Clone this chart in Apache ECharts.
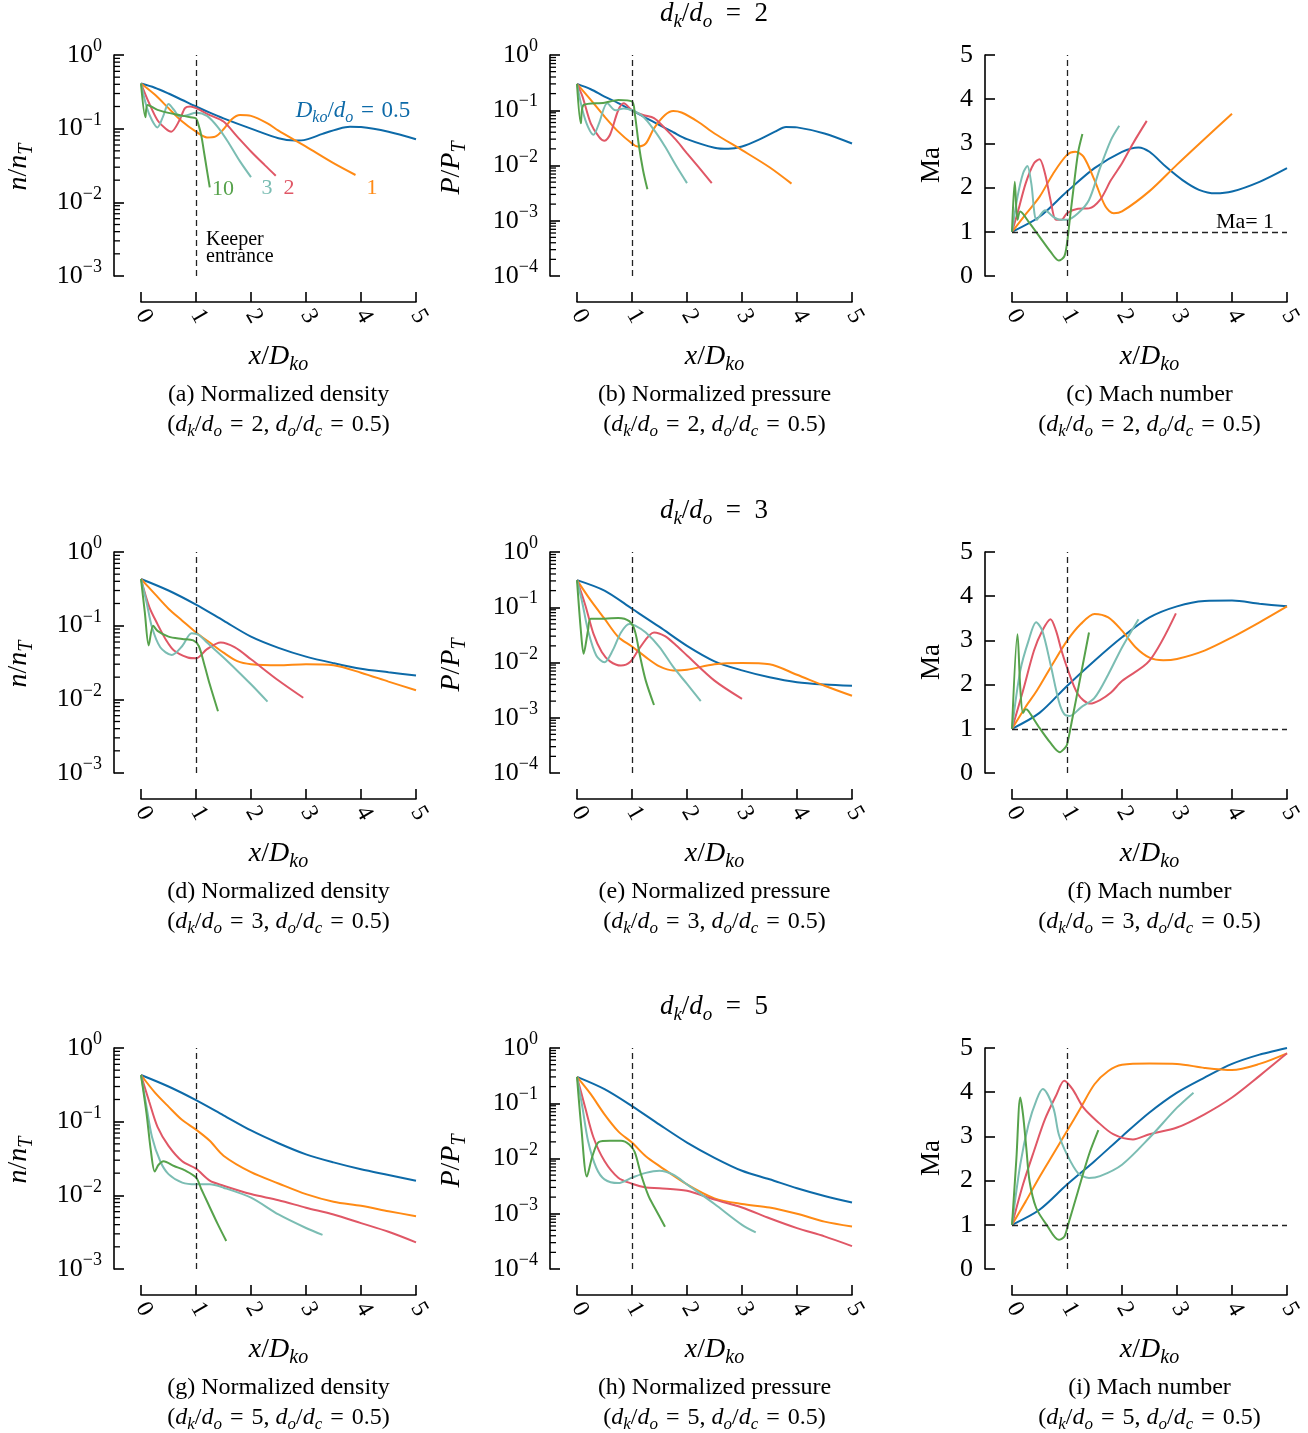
<!DOCTYPE html>
<html>
<head>
<meta charset="utf-8">
<script src="https://cdn.jsdelivr.net/npm/echarts@6/dist/echarts.min.js"></script>
<style>
  html, body { margin: 0; padding: 0; background: #fff; }
  #chart { width: 1308px; height: 1433px; }
</style>
</head>
<body>
<div id="chart"></div>
<script>
// x positions are x/D_ko
// row 1: d_k/d_o = 2
const nK2_05 = [[0,0.41],[0.25,0.36],[0.5,0.30],[0.75,0.245],[1,0.20],[1.25,0.165],[1.5,0.138],[2,0.10],[2.5,0.074],[2.8,0.069],[3,0.071],[3.3,0.085],[3.6,0.10],[3.8,0.106],[4,0.105],[4.5,0.091],[5,0.072]];
const nK2_1 = [[0,0.41],[0.25,0.29],[0.5,0.19],[0.75,0.125],[1,0.091],[1.2,0.076],[1.35,0.078],[1.5,0.098],[1.65,0.134],[1.8,0.153],[2,0.149],[2.3,0.118],[2.5,0.094],[3,0.057],[3.5,0.034],[3.9,0.0235]];
const nK2_2 = [[0,0.41],[0.15,0.22],[0.3,0.13],[0.45,0.10],[0.55,0.091],[0.7,0.13],[0.8,0.19],[0.9,0.20],[1,0.19],[1.25,0.153],[1.5,0.125],[1.75,0.078],[2,0.049],[2.25,0.032],[2.45,0.023]];
const nK2_3 = [[0,0.41],[0.1,0.2],[0.2,0.13],[0.3,0.104],[0.4,0.146],[0.5,0.216],[0.6,0.18],[0.7,0.146],[0.85,0.153],[1,0.165],[1.2,0.149],[1.4,0.104],[1.6,0.063],[1.8,0.036],[2,0.022]];
const nK2_10 = [[0,0.41],[0.08,0.143],[0.12,0.21],[0.3,0.18],[0.6,0.158],[0.9,0.143],[1,0.138],[1.05,0.11],[1.1,0.078],[1.15,0.046],[1.2,0.027],[1.25,0.016]];

const pK2_05 = [[0,0.30],[0.25,0.24],[0.5,0.177],[0.75,0.135],[1,0.10],[1.25,0.073],[1.5,0.054],[1.75,0.04],[2,0.030],[2.5,0.021],[2.75,0.02],[3,0.022],[3.3,0.029],[3.6,0.041],[3.8,0.05],[4,0.049],[4.5,0.038],[5,0.025]];
const pK2_1 = [[0,0.30],[0.25,0.154],[0.5,0.077],[0.75,0.041],[1,0.025],[1.1,0.022],[1.25,0.025],[1.4,0.047],[1.6,0.082],[1.75,0.097],[1.9,0.091],[2.2,0.062],[2.5,0.038],[3,0.019],[3.5,0.0093],[3.9,0.0047]];
const pK2_2 = [[0,0.30],[0.1,0.177],[0.25,0.058],[0.4,0.033],[0.5,0.028],[0.6,0.036],[0.75,0.10],[0.85,0.134],[1,0.10],[1.2,0.082],[1.4,0.072],[1.6,0.047],[1.8,0.029],[2,0.0166],[2.2,0.0096],[2.45,0.0048]];
const pK2_3 = [[0,0.30],[0.1,0.10],[0.2,0.05],[0.3,0.036],[0.4,0.058],[0.55,0.134],[0.7,0.10],[0.85,0.108],[1,0.10],[1.2,0.077],[1.4,0.044],[1.6,0.022],[1.8,0.01],[2,0.0048]];
const pK2_10 = [[0,0.30],[0.07,0.058],[0.12,0.125],[0.5,0.137],[0.75,0.154],[1,0.144],[1.05,0.088],[1.12,0.025],[1.2,0.0083],[1.28,0.0037]];

const maK2_05 = [[0,1],[0.5,1.34],[1,1.91],[1.5,2.44],[2,2.81],[2.3,2.91],[2.5,2.81],[2.8,2.47],[3.1,2.17],[3.4,1.95],[3.7,1.87],[4,1.91],[4.5,2.13],[5,2.44]];
const maK2_1 = [[0,1],[0.25,1.4],[0.5,1.79],[0.75,2.32],[1,2.74],[1.15,2.81],[1.3,2.7],[1.5,2.17],[1.7,1.57],[1.85,1.42],[2,1.46],[2.5,1.92],[3,2.52],[3.5,3.1],[4,3.67]];
const maK2_2 = [[0,1],[0.1,1.42],[0.25,2.1],[0.4,2.55],[0.5,2.64],[0.6,2.32],[0.7,1.72],[0.8,1.27],[0.9,1.27],[1,1.42],[1.2,1.52],[1.4,1.53],[1.6,1.72],[1.8,2.17],[2,2.55],[2.2,3.0],[2.45,3.51]];
const maK2_3 = [[0,1],[0.1,1.79],[0.2,2.32],[0.28,2.49],[0.35,2.1],[0.45,1.27],[0.6,1.49],[0.75,1.34],[0.9,1.27],[1,1.27],[1.2,1.42],[1.4,1.72],[1.6,2.44],[1.8,3.08],[1.95,3.4]];
const maK2_10 = [[0,1],[0.05,2.13],[0.1,1.27],[0.15,1.46],[0.3,1.23],[0.5,0.89],[0.7,0.55],[0.85,0.35],[0.95,0.44],[1,0.74],[1.05,1.27],[1.1,1.79],[1.2,2.78],[1.28,3.21]];

// row 2: d_k/d_o = 3
const nK3_05 = [[0,0.43],[0.5,0.30],[1,0.193],[1.5,0.117],[2,0.071],[2.5,0.05],[3,0.038],[3.5,0.031],[4,0.026],[4.5,0.0233],[5,0.021]];
const nK3_1 = [[0,0.43],[0.25,0.27],[0.5,0.17],[0.75,0.117],[1,0.081],[1.25,0.059],[1.5,0.043],[1.75,0.033],[2,0.030],[2.5,0.029],[3,0.030],[3.5,0.029],[4,0.023],[4.5,0.0174],[5,0.0133]];
const nK3_2 = [[0,0.43],[0.15,0.18],[0.3,0.105],[0.45,0.065],[0.6,0.046],[0.85,0.037],[1,0.036],[1.2,0.048],[1.45,0.059],[1.7,0.051],[2,0.035],[2.5,0.018],[2.95,0.0105]];
const nK3_3 = [[0,0.43],[0.1,0.21],[0.2,0.095],[0.35,0.051],[0.56,0.040],[0.75,0.053],[0.92,0.079],[1.05,0.075],[1.2,0.059],[1.5,0.037],[1.75,0.0245],[2,0.016],[2.3,0.0093]];
const nK3_10 = [[0,0.43],[0.07,0.15],[0.14,0.054],[0.22,0.1],[0.3,0.085],[0.5,0.071],[0.75,0.066],[0.95,0.063],[1.05,0.053],[1.15,0.030],[1.25,0.016],[1.4,0.0069]];

const pK3_05 = [[0,0.31],[0.5,0.2],[1,0.094],[1.5,0.044],[2,0.02],[2.5,0.0105],[3,0.0072],[3.5,0.0054],[4,0.0044],[4.5,0.004],[5,0.0038]];
const pK3_1 = [[0,0.31],[0.25,0.133],[0.5,0.062],[0.75,0.029],[1,0.0195],[1.25,0.0125],[1.5,0.0085],[1.75,0.0072],[2,0.0074],[2.5,0.0093],[3,0.0098],[3.5,0.0093],[4,0.006],[4.5,0.0038],[5,0.0025]];
const pK3_2 = [[0,0.31],[0.15,0.11],[0.3,0.033],[0.45,0.0155],[0.6,0.0105],[0.8,0.0088],[0.97,0.0103],[1.15,0.019],[1.4,0.035],[1.6,0.03],[1.8,0.0205],[2,0.0134],[2.5,0.0047],[3,0.0022]];
const pK3_3 = [[0,0.31],[0.1,0.116],[0.2,0.038],[0.35,0.0134],[0.5,0.0101],[0.65,0.0166],[0.8,0.035],[0.95,0.05],[1.05,0.047],[1.25,0.035],[1.5,0.019],[1.75,0.0083],[2,0.0041],[2.25,0.002]];
const pK3_10 = [[0,0.31],[0.07,0.038],[0.12,0.0144],[0.2,0.038],[0.25,0.062],[0.5,0.062],[0.75,0.064],[0.95,0.056],[1.05,0.038],[1.15,0.0125],[1.25,0.0047],[1.4,0.0017]];

const maK3_05 = [[0,1],[0.5,1.36],[1,1.97],[1.5,2.54],[2,3.07],[2.5,3.52],[3,3.77],[3.5,3.89],[4,3.9],[4.5,3.83],[5,3.77]];
const maK3_1 = [[0,1],[0.25,1.5],[0.45,1.86],[0.75,2.49],[1,2.99],[1.25,3.37],[1.5,3.6],[1.75,3.52],[2,3.22],[2.25,2.84],[2.5,2.61],[2.75,2.55],[3,2.58],[3.5,2.77],[4,3.07],[4.5,3.41],[5,3.77]];
const maK3_2 = [[0,1],[0.2,1.86],[0.4,2.77],[0.55,3.22],[0.7,3.48],[0.8,3.22],[0.9,2.77],[1,2.39],[1.2,1.78],[1.42,1.57],[1.6,1.65],[1.8,1.82],[2,2.08],[2.5,2.54],[2.98,3.61]];
const maK3_3 = [[0,1],[0.15,2.31],[0.3,2.99],[0.44,3.41],[0.55,3.22],[0.7,2.46],[0.85,1.63],[0.95,1.33],[1.05,1.29],[1.25,1.48],[1.5,1.70],[1.75,2.23],[2,2.84],[2.3,3.48]];
const maK3_10 = [[0,1],[0.1,3.14],[0.15,1.93],[0.2,1.36],[0.25,1.44],[0.3,1.4],[0.5,1.02],[0.7,0.68],[0.87,0.47],[0.95,0.55],[1.0,0.64],[1.1,1.25],[1.23,2.08],[1.4,3.18]];

// row 3: d_k/d_o = 5
const nK5_05 = [[0,0.43],[0.5,0.30],[1,0.196],[1.5,0.122],[2,0.076],[2.5,0.051],[3,0.036],[3.5,0.028],[4,0.0226],[4.5,0.0189],[5,0.0158]];
const nK5_1 = [[0,0.43],[0.25,0.25],[0.5,0.16],[0.75,0.105],[1,0.078],[1.25,0.055],[1.5,0.0345],[2,0.0206],[2.5,0.0145],[3,0.0104],[3.5,0.0082],[4,0.0072],[4.5,0.0061],[5,0.0052]];
const nK5_2 = [[0,0.43],[0.15,0.186],[0.3,0.085],[0.5,0.047],[0.75,0.029],[1,0.023],[1.25,0.0158],[1.5,0.0135],[2,0.0104],[2.5,0.0086],[3,0.0068],[3.5,0.0055],[4,0.0042],[4.5,0.0032],[5,0.0023]];
const nK5_3 = [[0,0.43],[0.1,0.16],[0.2,0.062],[0.35,0.029],[0.5,0.0194],[0.75,0.0149],[1,0.0141],[1.25,0.0141],[1.5,0.0127],[2,0.0093],[2.5,0.0055],[3,0.0036],[3.3,0.0029]];
const nK5_10 = [[0,0.43],[0.1,0.13],[0.18,0.04],[0.25,0.021],[0.32,0.026],[0.41,0.029],[0.6,0.025],[0.8,0.0218],[1,0.0175],[1.1,0.012],[1.2,0.0083],[1.4,0.004],[1.55,0.0024]];

const pK5_05 = [[0,0.30],[0.5,0.18],[1,0.089],[1.5,0.041],[2,0.0194],[2.5,0.0103],[3,0.006],[3.5,0.0042],[4,0.0029],[4.5,0.0021],[5,0.0016]];
const pK5_1 = [[0,0.30],[0.25,0.146],[0.5,0.063],[0.75,0.031],[1,0.0194],[1.25,0.011],[1.5,0.0073],[2,0.0034],[2.5,0.0019],[3,0.0015],[3.5,0.0013],[4,0.001],[4.5,0.00072],[5,0.00059]];
const pK5_2 = [[0,0.30],[0.15,0.083],[0.3,0.024],[0.5,0.009],[0.75,0.0045],[1,0.0035],[1.25,0.003],[1.5,0.0029],[2,0.0026],[2.5,0.0018],[3,0.0013],[3.5,0.00083],[4,0.00055],[4.5,0.00039],[5,0.00026]];
const pK5_3 = [[0,0.30],[0.1,0.083],[0.2,0.021],[0.35,0.0068],[0.5,0.0042],[0.75,0.0036],[1,0.0045],[1.25,0.0055],[1.5,0.006],[1.75,0.0051],[2,0.0034],[2.5,0.0015],[3,0.00063],[3.25,0.00046]];
const pK5_10 = [[0,0.30],[0.08,0.035],[0.18,0.0047],[0.28,0.011],[0.4,0.02],[0.6,0.021],[0.8,0.021],[0.95,0.018],[1.05,0.013],[1.16,0.0053],[1.3,0.0021],[1.41,0.0013],[1.6,0.00058]];

const maK5_05 = [[0,1],[0.5,1.34],[1,1.91],[1.5,2.44],[2,3.0],[2.5,3.54],[3,3.99],[3.5,4.33],[4,4.64],[4.5,4.85],[5,5.0]];
const maK5_1 = [[0,1],[0.25,1.53],[0.5,2.08],[0.75,2.6],[1,3.12],[1.25,3.65],[1.5,4.18],[1.75,4.48],[2,4.62],[2.5,4.65],[3,4.64],[3.5,4.55],[4,4.5],[4.5,4.64],[5,4.88]];
const maK5_2 = [[0,1],[0.2,1.91],[0.4,2.67],[0.6,3.39],[0.8,3.92],[0.95,4.26],[1.1,4.07],[1.3,3.65],[1.54,3.35],[1.84,3.05],[2.2,2.93],[2.5,3.05],[3,3.2],[3.5,3.5],[4,3.88],[4.5,4.37],[5,4.88]];
const maK5_3 = [[0,1],[0.15,2.36],[0.3,3.27],[0.45,3.84],[0.56,4.07],[0.75,3.65],[0.85,3.05],[1,2.59],[1.2,2.17],[1.4,2.06],[1.6,2.1],[2,2.36],[2.5,2.97],[3,3.65],[3.3,3.99]];
const maK5_10 = [[0,1],[0.08,2.5],[0.15,3.88],[0.2,3.5],[0.26,2.74],[0.32,1.98],[0.44,1.38],[0.63,1.0],[0.85,0.66],[0.95,0.73],[1.02,1.0],[1.2,1.76],[1.4,2.59],[1.57,3.14]];

const rowRatios = ['2', '3', '5'];
const panelLetters = ['a','b','c','d','e','f','g','h','i'];
const panelNames = ['Normalized density', 'Normalized pressure', 'Mach number'];
const colors = ['#0d6aa8', '#ff8a14', '#e05766', '#7bbdb3', '#56a24b'];

const panels = [
  [[nK2_05,nK2_1,nK2_2,nK2_3,nK2_10], [pK2_05,pK2_1,pK2_2,pK2_3,pK2_10], [maK2_05,maK2_1,maK2_2,maK2_3,maK2_10]],
  [[nK3_05,nK3_1,nK3_2,nK3_3,nK3_10], [pK3_05,pK3_1,pK3_2,pK3_3,pK3_10], [maK3_05,maK3_1,maK3_2,maK3_3,maK3_10]],
  [[nK5_05,nK5_1,nK5_2,nK5_3,nK5_10], [pK5_05,pK5_1,pK5_2,pK5_3,pK5_10], [maK5_05,maK5_1,maK5_2,maK5_3,maK5_10]]
];

const SERIF = "'Liberation Serif', 'Times New Roman', serif";
const EQ = '\u2004=\u2004';
const rowTop = [55, 552, 1048];
const colLeft = [141, 577, 1012];
const W = 275, H = 221;

function rich(size) {
  return {
    i: { fontFamily: SERIF, fontStyle: 'italic', fontSize: size },
    s: { fontFamily: SERIF, fontStyle: 'italic', fontSize: Math.round(size * 0.7),
         padding: [Math.round(size * 0.58), 0, 0, 0], verticalAlign: 'bottom' }
  };
}

function text(x, y, str, size, opt) {
  opt = opt || {};
  return {
    type: 'text', x: x, y: y, rotation: opt.rotation || 0, silent: true,
    style: {
      text: str, fontFamily: SERIF, fontSize: size, fill: opt.fill || '#000',
      align: opt.align || 'center', verticalAlign: 'middle',
      textAlign: opt.align || 'center', textVerticalAlign: 'middle',
      lineHeight: opt.lineHeight, rich: rich(size)
    }
  };
}

// minor ticks of the log axes (2..9 x 10^k)
function minorTicks(lowExp) {
  const out = [];
  for (let e = lowExp; e < 0; e++) {
    for (let m = 2; m <= 9; m++) out.push([0, m * Math.pow(10, e)]);
  }
  return out;
}

const grids = [], xAxes = [], yAxes = [], series = [], graphics = [];

for (let r = 0; r < 3; r++) {
  for (let c = 0; c < 3; c++) {
    const gi = r * 3 + c;
    const top = rowTop[r], left = colLeft[c];
    grids.push({ left: left, top: top, width: W, height: H });
    xAxes.push({
      gridIndex: gi, type: 'value', min: 0, max: 5, interval: 1, offset: 26,
      axisLine: { onZero: false, lineStyle: { color: '#000', width: 1.6 } },
      axisTick: { inside: true, length: 10, lineStyle: { color: '#000', width: 1.6 } },
      axisLabel: { rotate: -60, margin: 9, fontFamily: SERIF, fontSize: 24, color: '#000' },
      splitLine: { show: false }
    });
    const yBase = {
      gridIndex: gi, offset: 27,
      axisLine: { show: true, onZero: false, lineStyle: { color: '#000', width: 1.6 } },
      axisTick: { show: true, inside: true, length: 10, lineStyle: { color: '#000', width: 1.6 } },
      splitLine: { show: false }
    };
    if (c < 2) {
      const lowExp = c === 0 ? -3 : -4;
      yAxes.push(Object.assign(yBase, {
        type: 'log', logBase: 10, min: Math.pow(10, lowExp), max: 1,
        axisLabel: {
          margin: 12, fontFamily: SERIF, fontSize: 26, color: '#000', showMinLabel: true, showMaxLabel: true,
          formatter: function (v) {
            const e = Math.round(Math.log10(v));
            return '10{s|' + (e === 0 ? '0' : '\u2212' + (-e)) + '}';
          },
          rich: { s: { fontFamily: SERIF, fontSize: 18, padding: [0, 0, 17, 0], verticalAlign: 'top' } }
        }
      }));
      series.push({
        type: 'custom', xAxisIndex: gi, yAxisIndex: gi, silent: true, clip: false,
        data: minorTicks(lowExp),
        renderItem: function (params, api) {
          const p = api.coord([api.value(0), api.value(1)]);
          const x0 = p[0] - 27;
          return { type: 'line', shape: { x1: x0, y1: p[1], x2: x0 + 6, y2: p[1] },
                   style: { stroke: '#000', lineWidth: 1.3 } };
        }
      });
    } else {
      yAxes.push(Object.assign(yBase, {
        type: 'value', min: 0, max: 5, interval: 1,
        axisLabel: { margin: 12, fontFamily: SERIF, fontSize: 26, color: '#000' }
      }));
    }

    const curves = panels[r][c];
    curves.forEach(function (d, k) {
      const s = {
        type: 'line', xAxisIndex: gi, yAxisIndex: gi, data: d,
        showSymbol: false, smooth: 0.3, silent: true,
        lineStyle: { color: colors[k], width: 2 }, itemStyle: { color: colors[k] }
      };
      if (k === 0) {
        const ml = [{ xAxis: 1 }];
        if (c === 2) ml.push({ yAxis: 1 });
        s.markLine = {
          silent: true, symbol: 'none', label: { show: false }, animation: false,
          lineStyle: { type: [6, 4], color: '#222', width: 1.3 }, data: ml
        };
      }
      series.push(s);
    });

    // texts
    const cx = left + W / 2;
    const letter = panelLetters[gi];
    graphics.push(text(cx, top + 302, '{i|x}/{i|D}{s|ko}', 28));
    graphics.push(text(cx, top + 340, '(' + letter + ') ' + panelNames[c], 24));
    graphics.push(text(cx, top + 370,
      '({i|d}{s|k}/{i|d}{s|o}' + EQ + rowRatios[r] + ', {i|d}{s|o}/{i|d}{s|c}' + EQ + '0.5)', 24));
    if (c === 0) graphics.push(text(19, top + 112, '{i|n}/{i|n}{s|T}', 28, { rotation: Math.PI / 2 }));
    if (c === 1) graphics.push(text(452, top + 113, '{i|P}/{i|P}{s|T}', 28, { rotation: Math.PI / 2 }));
    if (c === 2) graphics.push(text(932, top + 110, 'Ma', 27, { rotation: Math.PI / 2 }));
  }
  graphics.push(text(714, rowTop[r] - 41, '{i|d}{s|k}/{i|d}{s|o}\u2002=\u2002' + rowRatios[r], 27));
}

// annotations of panel (a) and (c)
graphics.push(text(353, 111, '{i|D}{s|ko}/{i|d}{s|o}' + EQ + '0.5', 23, { fill: colors[0] }));
graphics.push(text(223, 189, '10', 22, { fill: colors[4] }));
graphics.push(text(267, 188, '3', 22, { fill: colors[3] }));
graphics.push(text(289, 188, '2', 22, { fill: colors[2] }));
graphics.push(text(372, 188, '1', 22, { fill: colors[1] }));
graphics.push(text(206, 248, 'Keeper\nentrance', 20, { align: 'left', lineHeight: 17 }));
graphics.push(text(1245, 222, 'Ma= 1', 22));

const chart = echarts.init(document.getElementById('chart'), null, { renderer: 'canvas' });
chart.setOption({
  animation: false,
  backgroundColor: '#fff',
  grid: grids,
  xAxis: xAxes,
  yAxis: yAxes,
  series: series,
  graphic: { elements: graphics }
});
</script>
</body>
</html>
